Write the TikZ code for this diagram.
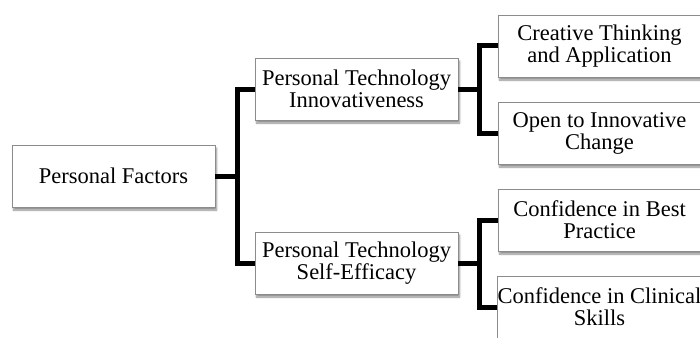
\documentclass[tikz,border=0pt]{standalone}
\usepackage{fontspec}
\setmainfont{Liberation Serif}
\usepackage{tikz}
\usetikzlibrary{
  shadows.blur
}
\tikzset{
  factor box/.style={draw=boxedge,thin,fill=white,align=center,
    minimum width=203pt,minimum height=62pt,inner sep=0pt,
    font=\fontsize{22.5}{22}\selectfont,
    blur shadow={shadow xshift=1.5pt,shadow yshift=-3pt,shadow blur steps=6,shadow opacity=45}},
  link/.style={draw,line width=5pt,line join=miter},
}
\colorlet{boxedge}{black!45}

\begin{document}
\begin{tikzpicture}[x=1pt,y=-1pt]
\useasboundingbox (0,0) rectangle (700,337);
\clip (0,0) rectangle (700,337);
\node[factor box] (pf) at (113.5,176) {Personal Factors};
\node[factor box] (pti) at (356.5,89) {Personal Technology\\Innovativeness};
\node[factor box] (ptse) at (356.5,263) {Personal Technology\\Self-Efficacy};
\foreach[count=\k] \lbl/\name in {
  {Creative Thinking\\and Application}/cta,
  {Open to Innovative\\Change}/oic,
  {Confidence in Best\\Practice}/cbp,
  {Confidence in Clinical\\Skills}/ccs}
{
  \node[factor box] (\name) at (599.5,87*\k-41) {\lbl};
}
\draw[link] (pf.east) -- ++(22,0) |- (pti.west);
\draw[link] (pf.east) -- ++(22,0) |- (ptse.west);
\draw[link] (pti.east) -- ++(21,0) |- (cta.west);
\draw[link] (pti.east) -- ++(21,0) |- (oic.west);
\draw[link] (ptse.east) -- ++(21,0) |- (cbp.west);
\draw[link] (ptse.east) -- ++(21,0) |- (ccs.west);
\end{tikzpicture}
\end{document}
